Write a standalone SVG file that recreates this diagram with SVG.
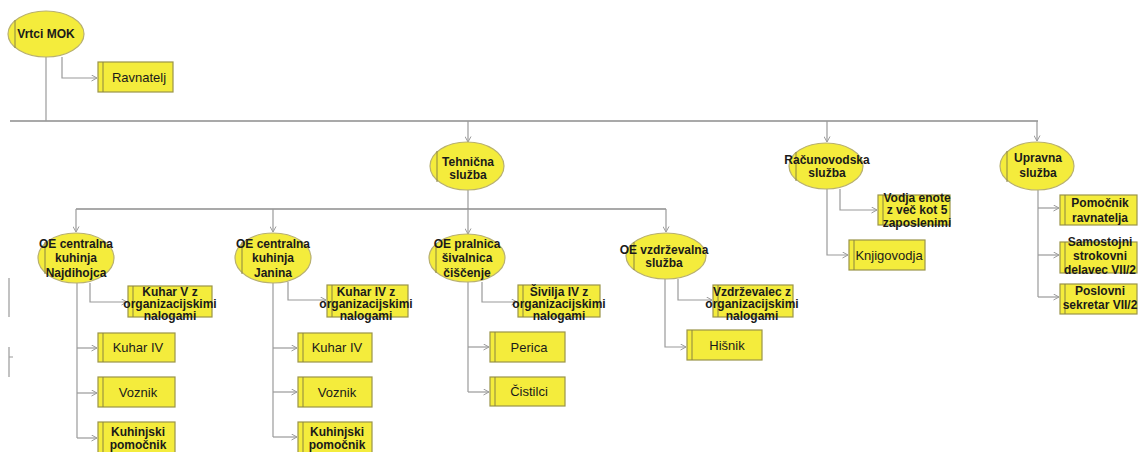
<svg xmlns="http://www.w3.org/2000/svg" width="1143" height="452" viewBox="0 0 1143 452">
<style>
.ell{fill:#f4ec3c;stroke:#b8b070;stroke-width:1.2}
.box{fill:#f4ec3c;stroke:#9a9448;stroke-width:1.2}
.in{stroke:#8a8440;stroke-width:1}
.c{fill:none;stroke:#9a9a9a;stroke-width:1.2}
.bus{fill:none;stroke:#8c8c8c;stroke-width:1.6}
.a{marker-end:url(#arr)}
text{font-family:"Liberation Sans",Arial,sans-serif;fill:#1a1a1a;text-anchor:middle}
.t{font-size:12px;font-weight:bold}
.r{font-size:13px}
</style>
<defs>
<marker id="arr" markerWidth="7" markerHeight="7" refX="6" refY="3.5" orient="auto" markerUnits="userSpaceOnUse">
<path d="M0.5,0.5 L6,3.5 L0.5,6.5" fill="none" stroke="#9a9a9a" stroke-width="1"/>
</marker>
</defs>
<rect width="1143" height="452" fill="#ffffff"/>
<g id="connectors">
<path class="bus" d="M10,121 H1038"/>
<path class="c" d="M46,56 V121"/>
<path class="c a" d="M62,57 V78 H97"/>
<path class="c a" d="M468,121 V142"/>
<path class="c a" d="M827,121 V142"/>
<path class="c a" d="M1037,121 V141"/>
<path class="c" d="M468,190 V209"/>
<path class="bus" d="M76,209 H666"/>
<path class="c a" d="M76,209 V232"/>
<path class="c a" d="M273,209 V232"/>
<path class="c a" d="M468,209 V234"/>
<path class="c a" d="M666,209 V232"/>
<path class="c a" d="M90,283 V302 H127"/>
<path class="c" d="M77,283 V438"/>
<path class="c a" d="M77,348 H97"/>
<path class="c a" d="M77,393 H97"/>
<path class="c a" d="M77,438 H97"/>
<path class="c a" d="M288,282 V300 H326"/>
<path class="c" d="M273,282 V437"/>
<path class="c a" d="M273,348 H297"/>
<path class="c a" d="M273,392 H297"/>
<path class="c a" d="M273,437 H297"/>
<path class="c a" d="M482,282 V302 H517"/>
<path class="c" d="M468,282 V392"/>
<path class="c a" d="M468,347 H489"/>
<path class="c a" d="M468,392 H489"/>
<path class="c a" d="M678,279 V300 H712"/>
<path class="c a" d="M665,279 V347 H686"/>
<path class="c a" d="M840,189 V210 H877"/>
<path class="c a" d="M827,189 V255 H848"/>
<path class="c" d="M1038,190 V297"/>
<path class="c a" d="M1038,208 H1059"/>
<path class="c a" d="M1038,255 H1059"/>
<path class="c a" d="M1038,297 H1059"/>
<path class="c" d="M9,278 V317 M9,347 V377 M9,357 H13"/>
</g>
<g id="vrtci-mok">
<ellipse class="ell" cx="46" cy="34" rx="38" ry="23"/>
<line class="in" x1="15" y1="20" x2="15" y2="48"/>
<text class="t" x="46" y="38">Vrtci MOK</text>
</g>
<g id="ravnatelj">
<rect class="box" x="98" y="62" width="75" height="30"/>
<line class="in" x1="103" y1="62" x2="103" y2="92"/>
<text class="r" x="139" y="82">Ravnatelj</text>
</g>
<g id="tehnicna-sluzba">
<ellipse class="ell" cx="467" cy="166" rx="37" ry="24"/>
<line class="in" x1="437" y1="151" x2="437" y2="182"/>
<text class="t" x="468" y="166">Tehnična</text>
<text class="t" x="468" y="179">služba</text>
</g>
<g id="racunovodska-sluzba">
<ellipse class="ell" cx="826" cy="166" rx="37" ry="23"/>
<line class="in" x1="796" y1="152" x2="796" y2="181"/>
<text class="t" x="827" y="164">Računovodska</text>
<text class="t" x="827" y="177">služba</text>
</g>
<g id="upravna-sluzba">
<ellipse class="ell" cx="1037" cy="166" rx="37" ry="24"/>
<line class="in" x1="1007" y1="151" x2="1007" y2="182"/>
<text class="t" x="1038" y="162">Upravna</text>
<text class="t" x="1038" y="177">služba</text>
</g>
<g id="oe-najdihojca">
<ellipse class="ell" cx="76" cy="258" rx="38" ry="25"/>
<line class="in" x1="45" y1="242" x2="45" y2="274"/>
<text class="t" x="76" y="248">OE centralna</text>
<text class="t" x="76" y="262">kuhinja</text>
<text class="t" x="76" y="277">Najdihojca</text>
</g>
<g id="oe-janina">
<ellipse class="ell" cx="273" cy="258" rx="38" ry="25"/>
<line class="in" x1="242" y1="242" x2="242" y2="274"/>
<text class="t" x="273" y="248">OE centralna</text>
<text class="t" x="273" y="262">kuhinja</text>
<text class="t" x="273" y="277">Janina</text>
</g>
<g id="oe-pralnica">
<ellipse class="ell" cx="467" cy="258" rx="38" ry="24"/>
<line class="in" x1="436" y1="243" x2="436" y2="273"/>
<text class="t" x="467" y="248">OE pralnica</text>
<text class="t" x="467" y="262">šivalnica</text>
<text class="t" x="467" y="277">čiščenje</text>
</g>
<g id="oe-vzdrzevalna">
<ellipse class="ell" cx="666" cy="256" rx="40" ry="23"/>
<line class="in" x1="634" y1="242" x2="634" y2="270"/>
<text class="t" x="664" y="254">OE vzdrževalna</text>
<text class="t" x="664" y="267">služba</text>
</g>
<g id="kuhar-v-z">
<rect class="box" x="128" y="286" width="84" height="31"/>
<line class="in" x1="133" y1="286" x2="133" y2="317"/>
<text class="t" x="170" y="296">Kuhar V z</text>
<text class="t" x="170" y="308">organizacijskimi</text>
<text class="t" x="170" y="320">nalogami</text>
</g>
<g id="kuhar-iv-n">
<rect class="box" x="98" y="333" width="77" height="29"/>
<line class="in" x1="103" y1="333" x2="103" y2="362"/>
<text class="r" x="138" y="352">Kuhar IV</text>
</g>
<g id="voznik-n">
<rect class="box" x="98" y="377" width="77" height="30"/>
<line class="in" x1="103" y1="377" x2="103" y2="407"/>
<text class="r" x="138" y="397">Voznik</text>
</g>
<g id="kuhinjski-n">
<rect class="box" x="98" y="422" width="77" height="32"/>
<line class="in" x1="103" y1="422" x2="103" y2="454"/>
<text class="t" x="138" y="436">Kuhinjski</text>
<text class="t" x="138" y="449">pomočnik</text>
</g>
<g id="kuhar-iv-z">
<rect class="box" x="327" y="285" width="81" height="32"/>
<line class="in" x1="332" y1="285" x2="332" y2="317"/>
<text class="t" x="366" y="296">Kuhar IV z</text>
<text class="t" x="366" y="308">organizacijskimi</text>
<text class="t" x="366" y="320">nalogami</text>
</g>
<g id="kuhar-iv-j">
<rect class="box" x="298" y="333" width="74" height="29"/>
<line class="in" x1="303" y1="333" x2="303" y2="362"/>
<text class="r" x="337" y="352">Kuhar IV</text>
</g>
<g id="voznik-j">
<rect class="box" x="298" y="377" width="74" height="30"/>
<line class="in" x1="303" y1="377" x2="303" y2="407"/>
<text class="r" x="337" y="397">Voznik</text>
</g>
<g id="kuhinjski-j">
<rect class="box" x="298" y="422" width="74" height="32"/>
<line class="in" x1="303" y1="422" x2="303" y2="454"/>
<text class="t" x="337" y="436">Kuhinjski</text>
<text class="t" x="337" y="449">pomočnik</text>
</g>
<g id="sivilja-iv-z">
<rect class="box" x="518" y="285" width="82" height="32"/>
<line class="in" x1="523" y1="285" x2="523" y2="317"/>
<text class="t" x="559" y="296">Šivilja IV z</text>
<text class="t" x="559" y="308">organizacijskimi</text>
<text class="t" x="559" y="320">nalogami</text>
</g>
<g id="perica">
<rect class="box" x="490" y="332" width="75" height="30"/>
<line class="in" x1="495" y1="332" x2="495" y2="362"/>
<text class="r" x="529" y="352">Perica</text>
</g>
<g id="cistilci">
<rect class="box" x="490" y="377" width="75" height="29"/>
<line class="in" x1="495" y1="377" x2="495" y2="406"/>
<text class="r" x="529" y="396">Čistilci</text>
</g>
<g id="vzdrzevalec-z">
<rect class="box" x="713" y="285" width="80" height="32"/>
<line class="in" x1="718" y1="285" x2="718" y2="317"/>
<text class="t" x="752" y="296">Vzdrževalec z</text>
<text class="t" x="752" y="308">organizacijskimi</text>
<text class="t" x="752" y="320">nalogami</text>
</g>
<g id="hisnik">
<rect class="box" x="687" y="330" width="75" height="30"/>
<line class="in" x1="692" y1="330" x2="692" y2="360"/>
<text class="r" x="727" y="350">Hišnik</text>
</g>
<g id="vodja-enote">
<rect class="box" x="878" y="195" width="72" height="30"/>
<line class="in" x1="883" y1="195" x2="883" y2="225"/>
<text class="t" x="917" y="202">Vodja enote</text>
<text class="t" x="917" y="214">z več kot 5</text>
<text class="t" x="917" y="227">zaposlenimi</text>
</g>
<g id="knjigovodja">
<rect class="box" x="849" y="240" width="76" height="30"/>
<line class="in" x1="854" y1="240" x2="854" y2="270"/>
<text class="r" x="889" y="260">Knjigovodja</text>
</g>
<g id="pomocnik-ravnatelja">
<rect class="box" x="1060" y="195" width="77" height="30"/>
<line class="in" x1="1065" y1="195" x2="1065" y2="225"/>
<text class="t" x="1100" y="207">Pomočnik</text>
<text class="t" x="1100" y="222">ravnatelja</text>
</g>
<g id="samostojni">
<rect class="box" x="1060" y="242" width="77" height="31"/>
<line class="in" x1="1065" y1="242" x2="1065" y2="273"/>
<text class="t" x="1100" y="246">Samostojni</text>
<text class="t" x="1100" y="260">strokovni</text>
<text class="t" x="1100" y="274">delavec VII/2</text>
</g>
<g id="poslovni-sekretar">
<rect class="box" x="1060" y="284" width="77" height="30"/>
<line class="in" x1="1065" y1="284" x2="1065" y2="314"/>
<text class="t" x="1100" y="295">Poslovni</text>
<text class="t" x="1100" y="309">sekretar VII/2</text>
</g>
</svg>
